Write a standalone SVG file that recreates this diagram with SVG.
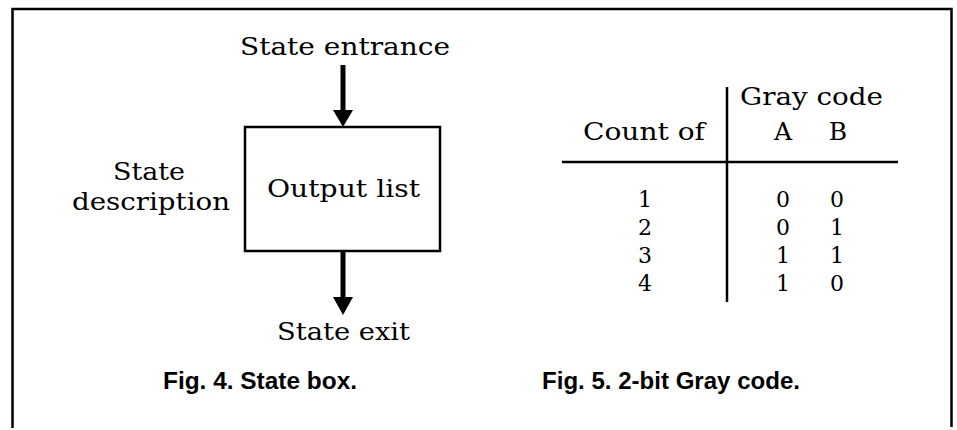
<svg xmlns="http://www.w3.org/2000/svg" width="957" height="430" viewBox="0 0 957 430">
<style>
.serif{font-family:"DejaVu Serif","Liberation Serif",serif;font-size:25px;fill:#000}
.dig{font-family:"DejaVu Serif","Liberation Serif",serif;font-size:22px;fill:#000;text-anchor:middle}
.cap{font-family:"Liberation Sans",Arial,sans-serif;font-size:24px;font-weight:bold;fill:#000}
.ln{stroke:#000;fill:none}
</style>
<rect width="957" height="430" fill="#fff"/>
<path id="frame" class="ln" stroke-width="2.5" d="M12.5,428 V9 H951.5 V427"/>
<g id="connectors">
<line class="ln" stroke-width="5" x1="343" y1="65" x2="343" y2="112"/>
<polygon points="333,110 353,110 343,127" fill="#000"/>
<line class="ln" stroke-width="5" x1="343" y1="252" x2="343" y2="299"/>
<polygon points="333,297 353,297 343,315" fill="#000"/>
</g>
<g id="state-box">
<rect class="ln" stroke-width="2.5" x="245" y="127" width="195" height="124"/>
<text class="serif" x="267" y="197" textLength="153" lengthAdjust="spacingAndGlyphs">Output list</text>
</g>
<g id="entrance-label"><text class="serif" x="240" y="55" textLength="210" lengthAdjust="spacingAndGlyphs">State entrance</text></g>
<g id="exit-label"><text class="serif" x="277" y="340" textLength="133" lengthAdjust="spacingAndGlyphs">State exit</text></g>
<g id="description-label">
<text class="serif" x="113" y="180" textLength="72" lengthAdjust="spacingAndGlyphs">State</text>
<text class="serif" x="72" y="210" textLength="158" lengthAdjust="spacingAndGlyphs">description</text>
</g>
<g id="caption4"><text class="cap" x="163" y="389" textLength="194" lengthAdjust="spacingAndGlyphs">Fig. 4. State box.</text></g>
<g id="gray-table">
<line class="ln" stroke-width="2.5" x1="727" y1="87" x2="727" y2="302"/>
<line class="ln" stroke-width="2.5" x1="562" y1="162" x2="898" y2="162"/>
<text class="serif" x="740" y="105" textLength="143" lengthAdjust="spacingAndGlyphs">Gray code</text>
<text class="serif" x="583" y="140" textLength="122" lengthAdjust="spacingAndGlyphs">Count of</text>
<text class="serif" x="783" y="140" text-anchor="middle">A</text>
<text class="serif" x="838" y="140" text-anchor="middle">B</text>
<text class="dig" x="645" y="207">1</text><text class="dig" x="783" y="207">0</text><text class="dig" x="837" y="207">0</text>
<text class="dig" x="645" y="235">2</text><text class="dig" x="783" y="235">0</text><text class="dig" x="837" y="235">1</text>
<text class="dig" x="645" y="263">3</text><text class="dig" x="783" y="263">1</text><text class="dig" x="837" y="263">1</text>
<text class="dig" x="645" y="291">4</text><text class="dig" x="783" y="291">1</text><text class="dig" x="837" y="291">0</text>
</g>
<g id="caption5"><text class="cap" x="542" y="389" textLength="258" lengthAdjust="spacingAndGlyphs">Fig. 5. 2-bit Gray code.</text></g>
</svg>
